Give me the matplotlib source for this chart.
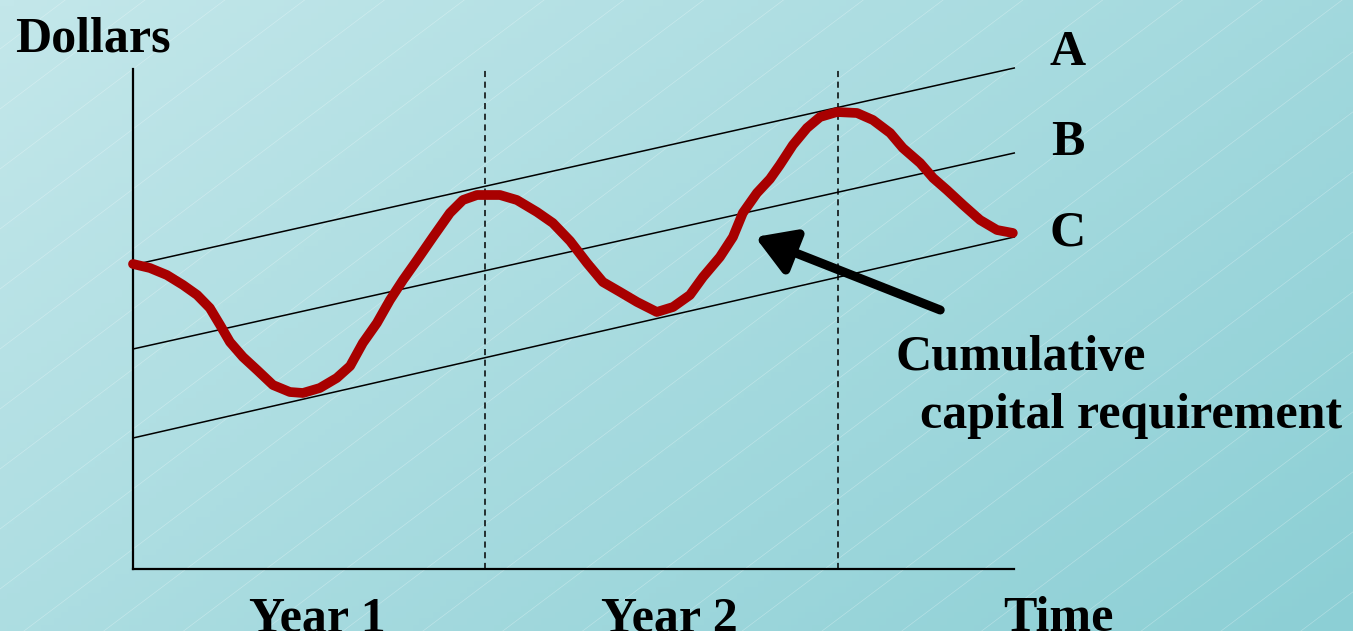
import numpy as np
import matplotlib
matplotlib.use("Agg")
from matplotlib import pyplot as plt
from matplotlib.colors import LinearSegmentedColormap

# time in years, dollars in arbitrary units (axis runs 0..10)
years_end = 2.5
year_marks = [1, 2]
year_labels = ["Year 1", "Year 2"]

# straight financing lines A, B, C (start value, end value)
line_names = ["A", "B", "C"]
line_start = [6.08, 4.40, 2.62]
line_end = [10.02, 8.32, 6.64]

# cumulative capital requirement curve
curve_t = [0.000, 0.048, 0.096, 0.142, 0.182, 0.218, 0.247, 0.275, 0.312,
           0.352, 0.397, 0.445, 0.482, 0.530, 0.578, 0.616, 0.652, 0.692,
           0.729, 0.766, 0.806, 0.851, 0.899, 0.936, 0.976, 1.041, 1.089,
           1.146, 1.191, 1.240, 1.288, 1.333, 1.382, 1.430, 1.486, 1.532,
           1.580, 1.617, 1.665, 1.702, 1.730, 1.770, 1.807, 1.835, 1.872,
           1.912, 1.949, 1.997, 2.054, 2.099, 2.148, 2.184, 2.233, 2.270,
           2.309, 2.355, 2.403, 2.451, 2.496]
curve_y = [6.10, 6.02, 5.88, 5.68, 5.48, 5.22, 4.88, 4.54, 4.24,
           3.98, 3.68, 3.54, 3.52, 3.62, 3.82, 4.06, 4.52, 4.92,
           5.38, 5.78, 6.18, 6.64, 7.12, 7.38, 7.48, 7.48, 7.38,
           7.14, 6.92, 6.56, 6.12, 5.74, 5.54, 5.34, 5.14, 5.24,
           5.48, 5.84, 6.24, 6.64, 7.12, 7.52, 7.80, 8.08, 8.48,
           8.82, 9.04, 9.14, 9.12, 8.98, 8.72, 8.42, 8.12, 7.82,
           7.58, 7.28, 6.98, 6.78, 6.72]

xlim = (-0.3773, 3.461)
ylim = (-1.24, 11.38)

fig = plt.figure(figsize=(13.53, 6.31), dpi=100)
ax = fig.add_axes([0, 0, 1, 1])
ax.axis("off")

# background gradient, light cyan top-left to teal bottom-right
gx, gy = np.meshgrid(np.linspace(0, 1, 200), np.linspace(0, 1, 100))
cmap = LinearSegmentedColormap.from_list("bg", ["#c3e7ea", "#8ccfd5"])
ax.imshow(gx * 0.6 + gy * 0.4, cmap=cmap, extent=[*xlim, *ylim],
          aspect="auto", zorder=0, origin="upper")

# faint diagonal hatch lines
for off in np.arange(-20, 14, 1.2):
    xs = np.array([-0.4, 3.5])
    ax.plot(xs, off + xs * 5.3, color="white", lw=0.5, alpha=0.3, zorder=1)
ax.set_xlim(*xlim)
ax.set_ylim(*ylim)

# axes
ax.plot([0, 0], [0, 10], color="black", lw=1.6, zorder=3)
ax.plot([0, years_end], [0, 0], color="black", lw=1.6, zorder=3)
for m in year_marks:
    ax.plot([m, m], [0, 10], color="black", lw=1.1, ls=(0, (4, 3)), zorder=3)

serif = dict(family="Liberation Serif", fontweight="bold", fontsize=36)
label_y = [10.08, 8.28, 6.46]
for name, s, e, ly in zip(line_names, line_start, line_end, label_y):
    ax.plot([0, years_end], [s, e], color="black", lw=1.1, zorder=3)
    ax.text(2.652, ly, name, ha="center", va="baseline", zorder=4, **serif)

ax.plot(curve_t, curve_y, color="#a80000", lw=7, solid_capstyle="round",
        solid_joinstyle="round", zorder=4)

ax.annotate("", xy=(1.765, 6.64), xytext=(2.29, 5.18),
            arrowprops=dict(arrowstyle="-|>,head_length=1.15,head_width=0.7",
                            mutation_scale=20, color="black", lw=6.5,
                            shrinkA=0, shrinkB=0), zorder=5)

ax.text(-0.335, 10.36, "Dollars", ha="left", va="baseline", **serif)
for m, lab in zip(year_marks, year_labels):
    ax.text(m - 0.478, -1.24, lab, ha="center", va="baseline", **serif)
ax.text(2.468, -1.24, "Time", ha="left", va="baseline", **serif)
ax.text(2.162, 3.98, "Cumulative", ha="left", va="baseline", **serif)
ax.text(2.233, 2.82, "capital requirement", ha="left", va="baseline", **serif)

fig.savefig("out.png", dpi=100)
